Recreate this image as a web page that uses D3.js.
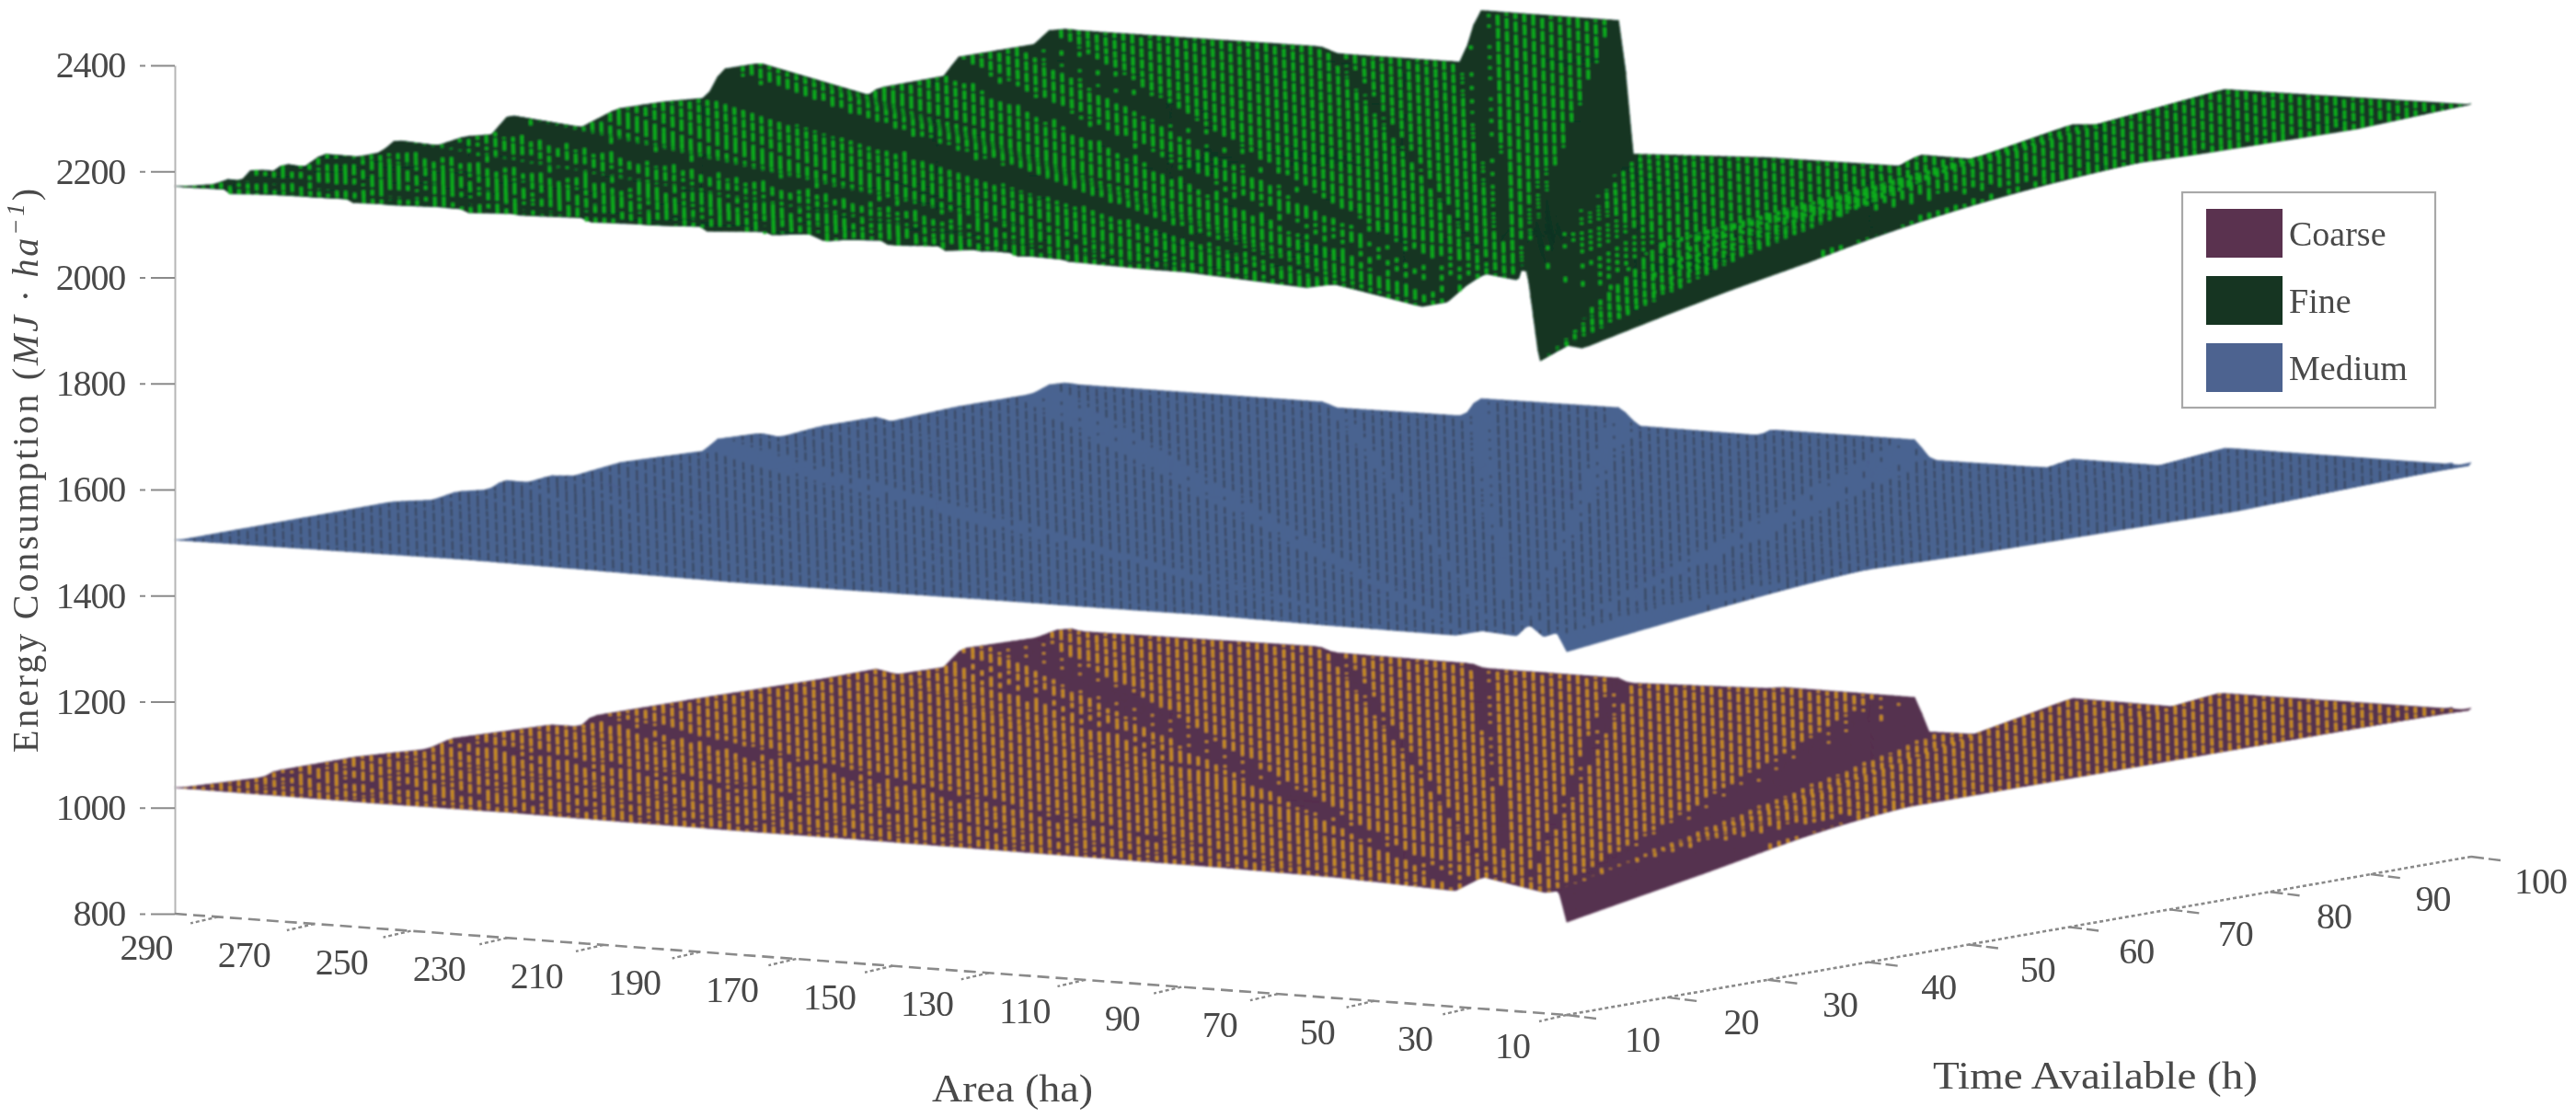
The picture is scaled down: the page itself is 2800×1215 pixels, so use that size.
<!DOCTYPE html>
<html><head><meta charset="utf-8">
<style>html,body{margin:0;padding:0;background:#fff}svg{display:block}</style>
<script src="https://cdn.jsdelivr.net/npm/d3@7/dist/d3.min.js"></script></head>
<body><svg id="c" width="2800" height="1215"></svg>
<script>
// ---- tick labels
const energyTicks=[800,1000,1200,1400,1600,1800,2000,2200,2400];
const areaTicks=[290,270,250,230,210,190,170,150,130,110,90,70,50,30,10];
const timeTicks=[10,20,30,40,50,60,70,80,90,100];
const seriesNames=["Coarse","Fine","Medium"];

// ---- Fine: energy read along the four edges of the surface
const fineFarTime=[10,14.2,15,16.5,17.7,19,20.9,22.6,24.7,28.2,30.5,31.9,36.1,38.8,41.5,43.2,50.4,54,58.6,62.9,64.4,68.2,79,80,86.7,87.8,95.5,97,98.8,100];
const fineFarTimeE=[2170,2162,2169,2159,2180,2160,2179,2163,2184,2167,2168,2186,2162,2170,2165,2196,2149,2172,2170,2163,2212,2211,2115,2125,2126,2157,2156,2177,2174,2167];
const fineFarArea=[299,248.8,245.3,219.5,216.1,186.5,184,156,128.6,124.4,113,92.7,86.8,61.2,10];
const fineFarAreaE=[2167,2170,2159,2160,2260,2260,2010,2022,2024,2048,2047,2126,2130,2213,2218];
const fineNearArea=[299,289.6,287.7,264,262.9,240.2,238.5,215,213.4,189.7,188.6,168.3,164,153.8,150.8,140,139,126.9,124.4,115.6,114.7,97,89.3,69.8,64,58.1,40.2,34.8,30.8,27,20.1,18.6,15.7,10];
const fineNearAreaE=[2172,2178,2165,2178,2165,2172,2162,2173,2161,2168,2160,2172,2157,2173,2159,2164,2156,2168,2155,2163,2153,2149,2149,2139,2136,2147,2116,2128,2162,2187,2179,2227,2029,2063];
const fineNearTime=[10,11.6,19.9,26.4,34.5,46,50.1,56.6,59,72.2,88.6,100];
const fineNearTimeE=[2063,2052,2087,2113,2141,2190,2204,2217,2224,2215,2210,2220];
const fineShelfRatio=[1.2,0.76,0.3,0.1];
const fineShelfE=[2058,2210,2210,2220];
const fineBandLow=[1.84,2.14,2.44,3.08,4.65,6.8,8.1,9.3,11.8,14.4,16.8,20.2,24.3];
const fineBandHigh=[1.88,2.18,2.48,3.2,4.8,7,8.35,9.55,12.15,14.8,17.3,20.7,24.9];

// ---- Medium
const mediumFarTime=[10,20.5,31.6,35.7,38,41.2,42.7,45,47.4,49.7,54.4,62.6,64,68.2,70.2,74.3,79.8,81.2,87.7,95.3,97,98.7,100];
const mediumFarTimeE=[1503,1504,1505,1495,1503,1496,1509,1497,1502,1494,1504,1498,1516,1513,1499,1506,1505,1492,1498,1497,1509,1507,1499];
const mediumFarArea=[299,248.2,245.5,219,216.3,186.5,182.9,157.8,155.3,125.4,122,101,96.9,92.9,74.5,60.8,10];
const mediumFarAreaE=[1499,1500,1491,1493,1528,1530,1498,1497,1509,1510,1474,1475,1476,1495,1495,1537,1537];
const mediumNearArea=[299,238,183.2,128.4,107.9,84.2,58.7,33.1,27.6,20.3,18,14.8,12.1,10];
const mediumNearAreaE=[1505,1508,1502,1504,1504,1505,1502,1501,1513,1508,1532,1510,1520,1485];
const mediumNearTime=[10,24.4,37.5,50.7,76.9,100];
const mediumNearTimeE=[1485,1516,1542,1535,1529,1543];
const mediumShelfRatio=[1.2,0.5,0.1];
const mediumShelfE=[1510,1538,1540];
const mediumBandLow=[1.22,1.84,2.14,2.44,3.08,4.65];
const mediumBandHigh=[1.28,1.88,2.18,2.48,3.2,4.8];

// ---- Coarse
const coarseFarTime=[10,18.8,19.9,28.1,35.1,37.5,47.4,50.3,51.5,62.6,74.3,79.8,81.8,86.5,88.3,95.8,97.6,99.4,100];
const coarseFarTimeE=[1036,1028,1036,1036,1027,1039,1032,1019,1035,1033,1029,1030,1013,1011,1040,1036,1044,1041,1034];
const coarseFarArea=[299,249,246.3,217.4,215,186.9,185,156,153,125.2,122.7,112.4,92.7,71.5,62.1,10];
const coarseFarAreaE=[1034,1038,1029,1027,1020,1020,1012,1021,1025,1024,961,963,1044,1042,1074,1076];
const coarseNearArea=[299,256.4,229.5,206.4,181.5,157.6,132.6,108.4,83.3,58,33.1,27.4,14.6,11.7,10];
const coarseNearAreaE=[1038,1036,1037,1035,1034,1034,1033,1032,1031,1028,1019,1049,1028,1033,975];
const coarseNearTime=[10,24.7,39.5,100];
const coarseNearTimeE=[975,1025,1080,1080];
const coarseShelfRatio=[1.2,0.6,0.25,0.1];
const coarseShelfE=[1032,1071,1080,1078];
const coarseBandLow=[1.2,1.84,2.14,2.44,3.12,5.7,7.9,10.1,12.7,15.3,18.5,22.2];
const coarseBandHigh=[1.32,1.88,2.18,2.48,3.3,5.9,8.15,10.4,13,15.7,18.9,22.7];

// ---- styles
const styles={
 Coarse:{base:"#55304f",mark:"#cc8f1e",w:3.4,swatch:"#5a3050"},
 Fine:{base:"#123524",mark:"#0cae1e",w:3.6,swatch:"#123524"},
 Medium:{base:"#4a6391",mark:"#364154",w:1.9,swatch:"#4d6490"}
};

// ---- oblique 3-D projection built from scales
const X0=1703,Y0=1103;
const areaX=d3.scaleLinear([10,299],[0,-1513]), areaY=d3.scaleLinear([10,299],[0,-110]);
const timeX=d3.scaleLinear([10,100],[0,983]),  timeY=d3.scaleLinear([10,100],[0,-172]);
const energyPx=d3.scaleLinear([800,2400],[0,-922]);
const project=(a,t,e)=>[X0+areaX(a)+timeX(t), Y0+areaY(a)+timeY(t)+energyPx(e)];
const edge=(k,v)=>d3.scaleLinear(k,v).clamp(true);
const mk=(fT,fTE,fA,fAE,nA,nAE,nT,nTE,sR,sE,shelfArea,bL,bH)=>({
  farT:edge(fT,fTE),farA:edge(fA,fAE),nearA:edge(nA,nAE),nearT:edge(nT,nTE),
  shelf:edge(sR,sE),shelfMax:sR[0],shelfArea,bandLow:bL,bandHigh:bH});
const surfaces={
 Coarse:mk(coarseFarTime,coarseFarTimeE,coarseFarArea,coarseFarAreaE,coarseNearArea,coarseNearAreaE,coarseNearTime,coarseNearTimeE,coarseShelfRatio,coarseShelfE,14,coarseBandLow,coarseBandHigh),
 Fine:mk(fineFarTime,fineFarTimeE,fineFarArea,fineFarAreaE,fineNearArea,fineNearAreaE,fineNearTime,fineNearTimeE,fineShelfRatio,fineShelfE,16,fineBandLow,fineBandHigh),
 Medium:mk(mediumFarTime,mediumFarTimeE,mediumFarArea,mediumFarAreaE,mediumNearArea,mediumNearAreaE,mediumNearTime,mediumNearTimeE,mediumShelfRatio,mediumShelfE,14,mediumBandLow,mediumBandHigh)
};
const lerp=(p,q,w)=>p+(q-p)*w;
// The surfaces fan out along rays of constant area/time: each ray joins its two edge readings.
function energyAt(s,a,t){
  const r=a/t;
  let an,en,af,ef;
  if(r>=1){an=10*r;en=s.nearA(an);}else{an=10;en=s.nearT(10/r);}
  if(r>=2.99){af=299;ef=s.farT(299/r);}else{af=100*r;ef=s.farA(af);}
  if(af-an<1e-6) return en;
  if(r<s.shelfMax&&an<s.shelfArea&&af>s.shelfArea){
    const em=s.shelf(r);
    return a<=s.shelfArea?lerp(en,em,(a-an)/(s.shelfArea-an)):lerp(em,ef,(a-s.shelfArea)/(af-s.shelfArea));
  }
  return lerp(en,ef,(a-an)/(af-an));
}
const inBand=(s,r)=>s.bandLow.some((l,k)=>r>=l&&r<=s.bandHigh[k]);
const svg=d3.select("#c");
const defs=svg.append("defs");
defs.append("filter").attr("id","soft").attr("filterUnits","userSpaceOnUse").attr("x",0).attr("y",0).attr("width",2800).attr("height",1215)
  .append("feGaussianBlur").attr("stdDeviation",1.1);
defs.append("filter").attr("id","softText").attr("filterUnits","userSpaceOnUse").attr("x",0).attr("y",0).attr("width",2800).attr("height",1215)
  .append("feGaussianBlur").attr("stdDeviation",0.55);

const meshA=[...d3.range(10,40,0.5),...d3.range(40,299,1.5),299];
const meshT=[...d3.range(10,100,0.75),100];
const f1=v=>v.toFixed(1);
function basePath(s){
  const out=[];
  const P=meshA.map(a=>meshT.map(t=>project(a,t,energyAt(s,a,t))));
  for(let i=0;i<meshA.length-1;i++)for(let j=0;j<meshT.length-1;j++){
    let q=[P[i][j],P[i+1][j],P[i+1][j+1],P[i][j+1]];
    if(d3.polygonArea(q)<0) q=q.reverse();
    out.push("M"+q.map(p=>f1(p[0])+" "+f1(p[1])).join("L")+"Z");
  }
  return out.join("");
}
const stepA=1.85, stepT=0.88, T1=16, T2=44;
const mod=(v,m)=>((v%m)+m)%m;
function markPaths(s){
  const full=[];
  const E=(a,t)=>energyAt(s,Math.min(299,Math.max(10,a)),Math.min(100,Math.max(10,t)));
  const ni=Math.floor(289/stepA), nj=Math.floor(90/stepT);
  for(let i=0;i<=ni;i++)for(let j=0;j<=nj;j++){
    const a=10+i*stepA,t=10+j*stepT,c=j-i;
    if(a+stepA>299||t+stepT>100) continue;
    if(mod(i+2*c,5)>=4) continue;
    const e=E(a,t);
    const g=Math.max(Math.abs(E(a+stepA,t)-E(a-stepA,t)),Math.abs(E(a,t+stepT)-E(a,t-stepT)));
    const dark=inBand(s,a/t)||g>T2;
    if(dark && (mod(c,2)!==0||mod(i,4)>0)) continue;
    if(!dark && g>T1 && mod(i+c,2)===1) continue;
    const p0=project(a,t,e),p1=project(a+stepA,t+stepT,E(a+stepA,t+stepT));
    if(Math.abs(p1[1]-p0[1])>7) continue;
    full.push("M"+f1(p0[0])+" "+f1(p0[1])+"L"+f1(p1[0])+" "+f1(p1[1]));
  }
  return full.join("");
}
const gS=svg.append("g").attr("filter","url(#soft)");
for(const name of ["Coarse","Medium","Fine"]){
  const s=surfaces[name],st=styles[name];
  const g=gS.append("g").attr("class","surface "+name);
  g.append("path").attr("d",basePath(s)).attr("fill",st.base).attr("stroke",st.base).attr("stroke-width",0.6);
  g.append("path").attr("d",markPaths(s)).attr("fill","none").attr("stroke",st.mark).attr("stroke-width",st.w);
}

// ---- axes
const gA=svg.append("g").attr("filter","url(#softText)");
const font="'Liberation Serif','Noto Serif',serif", ink="#4a4a4a", rule="#8a8a8a";
const energyScale=d3.scaleLinear([800,2400],[Y0+areaY(299),Y0+areaY(299)+energyPx(2400)]);
const yAxis=gA.append("g").attr("transform",`translate(${X0+areaX(299)},0)`)
  .call(d3.axisLeft(energyScale).tickValues(energyTicks).tickFormat(d3.format("d")).tickSize(38).tickPadding(16).tickSizeOuter(0));
yAxis.select(".domain").attr("stroke","#b5b5b5").attr("stroke-width",2);
yAxis.selectAll(".tick line").attr("stroke",rule).attr("stroke-width",2).attr("stroke-dasharray","26 6 6");
yAxis.selectAll("text").attr("font-family",font).attr("font-size",40).attr("fill",ink).attr("letter-spacing",-1.2);

const gArea=gA.append("g");
const aP=(a)=>project(a,10,800);
gArea.append("line").attr("x1",aP(299)[0]).attr("y1",aP(299)[1]).attr("x2",aP(10)[0]).attr("y2",aP(10)[1])
  .attr("stroke",rule).attr("stroke-width",2.6).attr("stroke-dasharray","13 7");
const aLabelDx=d3.scaleLinear([290,10],[-78,-59]);
gArea.selectAll("g").data(areaTicks).join("g").each(function(a){
  const p=aP(a),g=d3.select(this);
  g.append("line").attr("x1",p[0]).attr("y1",p[1]).attr("x2",p[0]-30).attr("y2",p[1]+7)
    .attr("stroke",rule).attr("stroke-width",2.4).attr("stroke-dasharray","4 3");
  g.append("text").text(a).attr("x",p[0]+aLabelDx(a)).attr("y",p[1]+47).attr("text-anchor","middle")
    .attr("font-family",font).attr("font-size",40).attr("fill",ink).attr("letter-spacing",-1);
});
const gTime=gA.append("g");
const tP=(t)=>project(10,t,800);
gTime.append("line").attr("x1",tP(10)[0]).attr("y1",tP(10)[1]).attr("x2",tP(100)[0]).attr("y2",tP(100)[1])
  .attr("stroke",rule).attr("stroke-width",2.6).attr("stroke-dasharray","4 3");
const tLabelDx=d3.scaleLinear([10,100],[63,47]);
gTime.selectAll("g").data(timeTicks).join("g").each(function(t){
  const p=tP(t),g=d3.select(this);
  g.append("line").attr("x1",p[0]).attr("y1",p[1]).attr("x2",p[0]+32).attr("y2",p[1]+4)
    .attr("stroke",rule).attr("stroke-width",2.4).attr("stroke-dasharray","14 5");
  g.append("text").text(t).attr("x",p[0]+tLabelDx(t)).attr("y",p[1]+40)
    .attr("font-family",font).attr("font-size",40).attr("fill",ink).attr("letter-spacing",-1);
});
// ---- titles
gA.append("text").text("Area (ha)").attr("x",1013).attr("y",1197)
  .attr("font-family",font).attr("font-size",42).attr("fill",ink).attr("textLength",175).attr("lengthAdjust","spacingAndGlyphs");
gA.append("text").text("Time Available (h)").attr("x",2101).attr("y",1183)
  .attr("font-family",font).attr("font-size",42).attr("fill",ink).attr("textLength",353).attr("lengthAdjust","spacingAndGlyphs");
const yT=gA.append("text").attr("transform","translate(41,818) rotate(-90)")
  .attr("font-family",font).attr("font-size",40).attr("fill",ink).attr("textLength",613).attr("lengthAdjust","spacing");
yT.append("tspan").text("Energy Consumption (");
yT.append("tspan").attr("font-style","italic").text("MJ · ha");
yT.append("tspan").attr("font-style","italic").attr("font-size",27).attr("dy",-15).text("−1");
yT.append("tspan").attr("dy",15).text(")");
// ---- legend
const leg=gA.append("g");
leg.append("rect").attr("x",2372).attr("y",209).attr("width",275).attr("height",234).attr("fill","#fff").attr("stroke","#a8a8a8").attr("stroke-width",2.2);
const legY=d3.scalePoint(seriesNames,[227,373]);
seriesNames.forEach(n=>{
  leg.append("rect").attr("x",2398).attr("y",legY(n)).attr("width",83).attr("height",53).attr("fill",styles[n].swatch);
  leg.append("text").text(n).attr("x",2488).attr("y",legY(n)+40).attr("font-family",font).attr("font-size",38).attr("fill",ink);
});
</script></body></html>
